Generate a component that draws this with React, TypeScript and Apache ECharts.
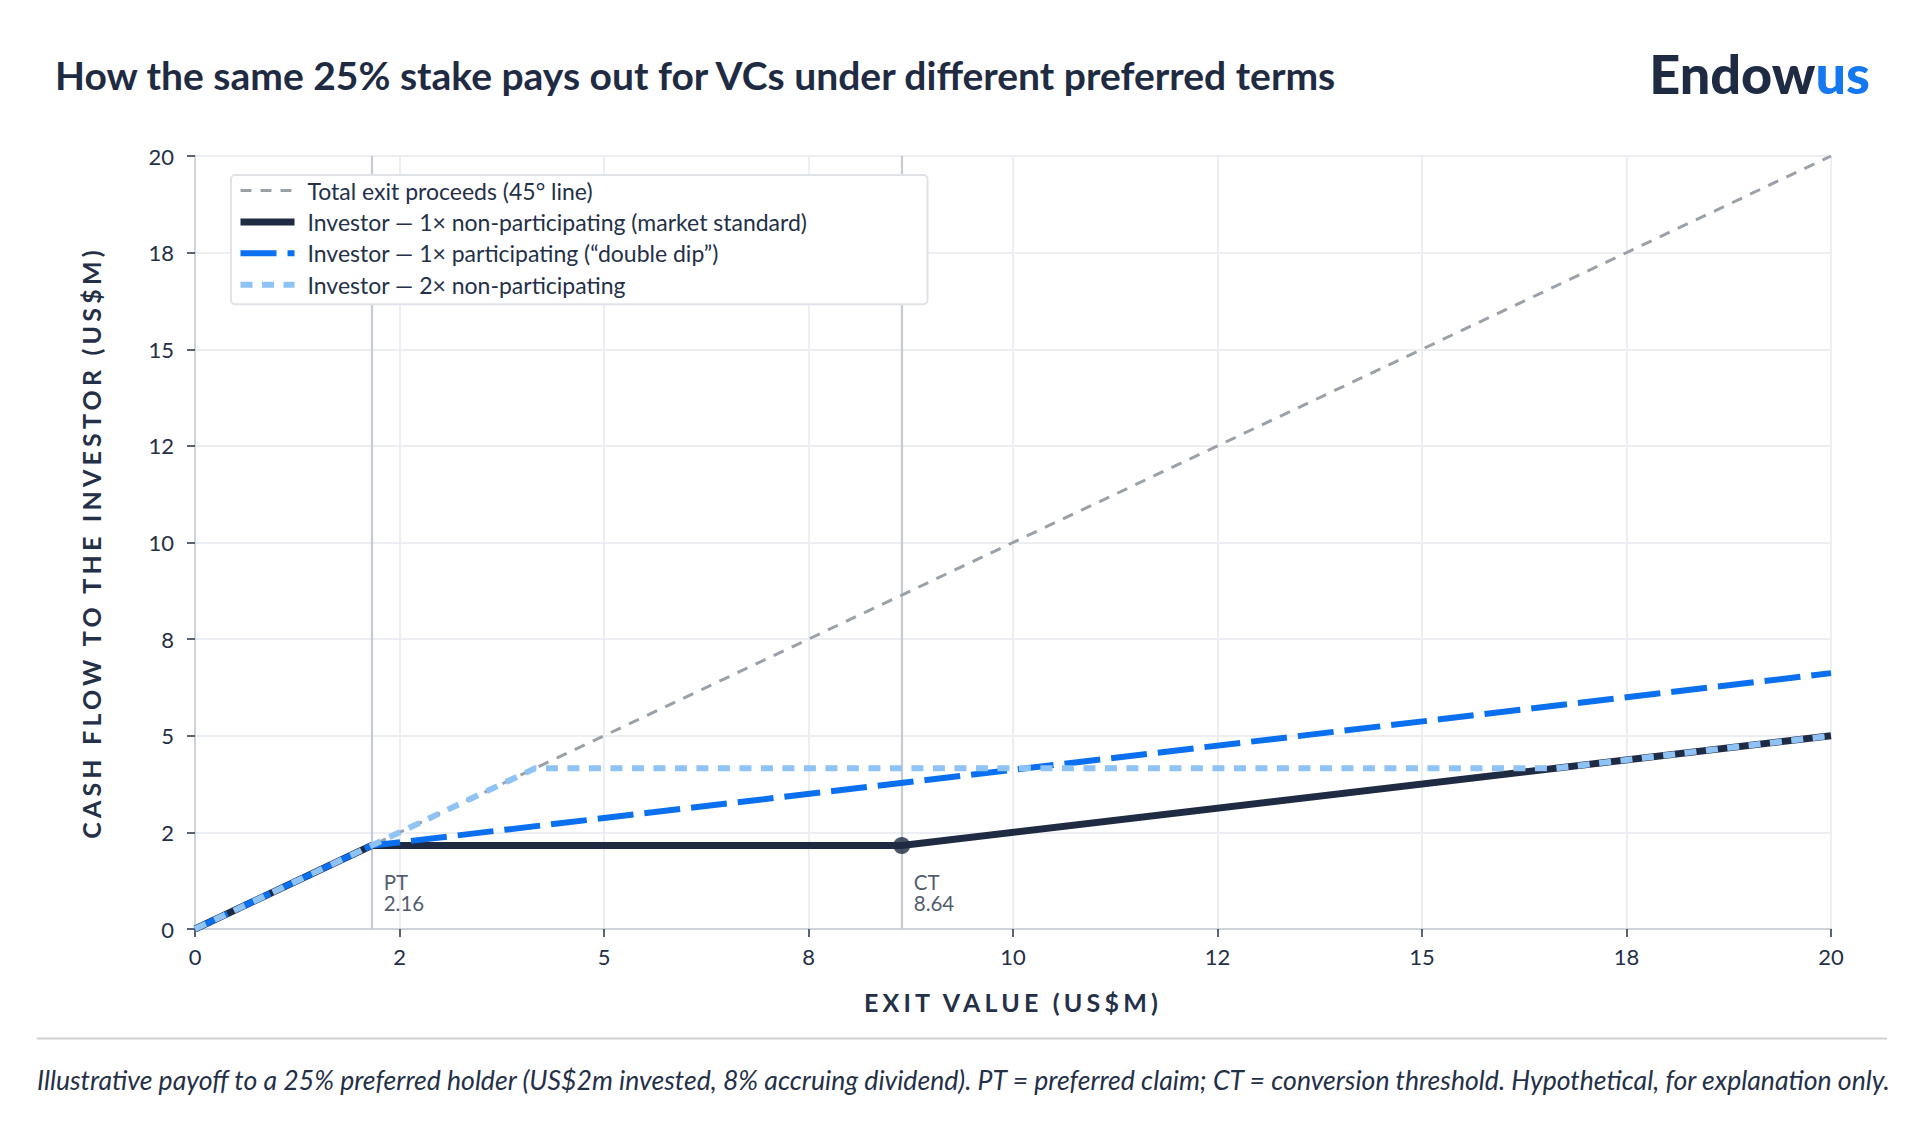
import { useEffect, useRef } from 'react'
import * as echarts from 'echarts'

// ---- text
const TITLE = 'How the same 25% stake pays out for VCs under different preferred terms'
const NOTE =
  'Illustrative payoff to a 25% preferred holder (US$2m invested, 8% accruing dividend). PT = preferred claim; CT = conversion threshold. Hypothetical, for explanation only.'
const X_NAME = 'EXIT VALUE (US$M)'
const Y_NAME = 'CASH FLOW TO THE INVESTOR (US$M)'

// ---- series (exit value in US$m -> cash to investor in US$m)
const SERIES_NAMES = [
  'Total exit proceeds (45° line)',
  'Investor — 1× non-participating (market standard)',
  'Investor — 1× participating (“double dip”)',
  'Investor — 2× non-participating',
]
const TOTAL_X = [0, 20]
const TOTAL_Y = [0, 20]
const NONPART_X = [0, 2.16, 8.64, 20]
const NONPART_Y = [0, 2.16, 2.16, 5]
const PART_X = [0, 2.16, 20]
const PART_Y = [0, 2.16, 6.62]
const NONPART2_X = [0, 4.16, 16.64, 20]
const NONPART2_Y = [0, 4.16, 4.16, 5]

// thresholds
const MARK_NAMES = ['PT', 'CT']
const MARK_X = [2.16, 8.64]
const CT_X = [8.64]
const CT_Y = [2.16]

// tick labels (ticks every 2.5, shown rounded)
const X_TICKS = ['0', '2', '5', '8', '10', '12', '15', '18', '20']
const Y_TICKS = ['0', '2', '5', '8', '10', '12', '15', '18', '20']

const NAVY = '#1f2b42'
const BLUE = '#0a70f0'
const LIGHT = '#8fc3f6'
const GREY = '#9ba1a9'
const TEXT = '#243047'

const pairs = (xs: number[], ys: number[]) => xs.map((x, i) => [x, ys[i]])

export default function App() {
  const ref = useRef<HTMLDivElement>(null)

  useEffect(() => {
    if (!ref.current) return
    const el = ref.current
    const chart = echarts.init(el, null, { renderer: 'svg' })

    chart.setOption({
      animation: false,
      backgroundColor: '#ffffff',
      textStyle: { fontFamily: 'Lato' },
      title: {
        text: TITLE,
        left: 50,
        top: 50,
        textStyle: { fontFamily: 'Lato', fontWeight: 'bold', fontSize: 39, color: NAVY },
      },
      grid: { left: 195, right: 89, top: 156, bottom: 193 },
      legend: {
        orient: 'vertical',
        left: 231,
        top: 175,
        z: 10,
        data: SERIES_NAMES,
        selectedMode: false,
        itemWidth: 54,
        itemHeight: 22,
        itemGap: 8.4,
        padding: [4, 120, 8, 6],
        backgroundColor: '#ffffff',
        borderColor: '#dfe2e7',
        borderWidth: 2,
        borderRadius: 4,
        itemStyle: { opacity: 0 },
        lineStyle: { width: 'inherit' },
        textStyle: { fontFamily: 'Lato', fontSize: 23, color: TEXT, padding: [0, 0, 0, 8] },
      },
      xAxis: {
        type: 'value',
        min: 0,
        max: 20,
        interval: 2.5,
        name: X_NAME,
        nameLocation: 'middle',
        nameGap: 60,
        nameTextStyle: { fontFamily: 'Lato', fontWeight: 'bold', fontSize: 25, color: TEXT },
        axisLine: { show: true, lineStyle: { color: '#cfd4da', width: 2 } },
        axisTick: { show: true, length: 8, lineStyle: { color: TEXT, width: 1.5 } },
        axisLabel: {
          margin: 16,
          fontFamily: 'Lato',
          fontSize: 22,
          color: TEXT,
          formatter: (v: number) => X_TICKS[Math.round(v / 2.5)] ?? '',
        },
        splitLine: { show: true, lineStyle: { color: '#eceef2', width: 2 } },
      },
      yAxis: {
        type: 'value',
        min: 0,
        max: 20,
        interval: 2.5,
        name: Y_NAME,
        nameLocation: 'middle',
        nameGap: 92,
        nameTextStyle: { fontFamily: 'Lato', fontWeight: 'bold', fontSize: 25, color: TEXT },
        axisLine: { show: true, lineStyle: { color: '#cfd4da', width: 2 } },
        axisTick: { show: true, length: 8, lineStyle: { color: TEXT, width: 1.5 } },
        axisLabel: {
          margin: 21,
          fontFamily: 'Lato',
          fontSize: 22,
          color: TEXT,
          formatter: (v: number) => Y_TICKS[Math.round(v / 2.5)] ?? '',
        },
        splitLine: { show: true, lineStyle: { color: '#eceef2', width: 2 } },
      },
      series: [
        {
          name: 'thresholds',
          type: 'scatter',
          z: 1,
          silent: true,
          symbolSize: 0,
          data: MARK_NAMES.map((n, i) => ({ name: n, value: [MARK_X[i], 0] })),
          label: {
            show: true,
            position: [12, -58],
            align: 'left',
            verticalAlign: 'top',
            fontFamily: 'Lato',
            fontSize: 20.5,
            lineHeight: 21,
            color: TEXT,
            formatter: (p: any) => `${p.name}\n${p.value[0].toFixed(2)}`,
          },
          markLine: {
            silent: true,
            z: 1,
            symbol: 'none',
            label: { show: false },
            lineStyle: { color: '#c6cbd3', width: 2.2, type: 'solid' },
            data: MARK_X.map((x) => ({ xAxis: x })),
          },
        },
        {
          name: SERIES_NAMES[0],
          type: 'line',
          symbol: 'none',
          z: 2,
          data: pairs(TOTAL_X, TOTAL_Y),
          lineStyle: { color: GREY, width: 3, type: [11, 9] },
          itemStyle: { color: GREY },
        },
        {
          name: SERIES_NAMES[1],
          type: 'line',
          symbol: 'none',
          z: 3,
          data: pairs(NONPART_X, NONPART_Y),
          lineStyle: { color: NAVY, width: 7 },
          itemStyle: { color: NAVY },
        },
        {
          name: SERIES_NAMES[2],
          type: 'line',
          symbol: 'none',
          z: 4,
          data: pairs(PART_X, PART_Y),
          lineStyle: { color: BLUE, width: 6, type: [36, 11] },
          itemStyle: { color: BLUE },
        },
        {
          name: SERIES_NAMES[3],
          type: 'line',
          symbol: 'none',
          z: 5,
          data: pairs(NONPART2_X, NONPART2_Y),
          lineStyle: { color: LIGHT, width: 6, type: [12, 9.5] },
          itemStyle: { color: LIGHT },
        },
        {
          name: 'conversion point',
          type: 'scatter',
          z: 6,
          silent: true,
          symbolSize: 17,
          itemStyle: { color: NAVY },
          data: pairs(CT_X, CT_Y),
        },
      ],
      graphic: [
        {
          type: 'text',
          right: 50,
          top: 46,
          style: {
            text: '{a|Endow}{b|us}',
            rich: {
              a: { fontFamily: 'Lato', fontWeight: 900, fontSize: 54, fill: NAVY },
              b: { fontFamily: 'Lato', fontWeight: 900, fontSize: 54, fill: '#1478f2' },
            },
          },
        },
        {
          type: 'line',
          shape: { x1: 37, y1: 1038.5, x2: 1887, y2: 1038.5 },
          style: { stroke: '#cfcfcf', lineWidth: 2 },
        },
        {
          type: 'text',
          left: 37,
          top: 1066,
          style: {
            text: NOTE,
            fontFamily: 'Lato',
            fontStyle: 'italic',
            fontSize: 26.6,
            fill: TEXT,
          },
        },
      ],
    })

    // axis titles are tracked out in the reference
    const spaceOut = () => {
      el.querySelectorAll('text').forEach((t) => {
        if (t.textContent === X_NAME || t.textContent === Y_NAME) {
          t.setAttribute('letter-spacing', '4.2px')
        }
      })
    }
    chart.on('finished', spaceOut)
    const timer = setTimeout(spaceOut, 50)

    return () => {
      clearTimeout(timer)
      chart.dispose()
    }
  }, [])

  return (
    <div
      ref={ref}
      style={{ position: 'absolute', left: 0, top: 0, width: 1920, height: 1122 }}
    />
  )
}
